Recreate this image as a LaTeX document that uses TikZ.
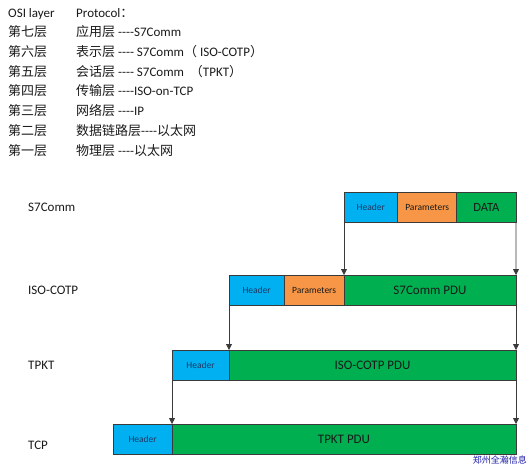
\documentclass[tikz,border=0pt]{standalone}
\usepackage{fontspec}
\setmainfont{Carlito}[Ligatures=TeXOff]
\newfontfamily\cjk{Noto Sans CJK SC}
\usetikzlibrary{arrows.meta}
\definecolor{Ink}{HTML}{1A1A1A}
\definecolor{Edge}{HTML}{3A3A3A}
\definecolor{HdrBlue}{HTML}{00B0F0}
\definecolor{ParOrange}{HTML}{F79646}
\definecolor{PduGreen}{HTML}{00B050}
\definecolor{HdrText}{HTML}{1F3864}
\definecolor{Mark}{HTML}{1C1CA8}

\begin{document}
\begin{tikzpicture}[
  x=1pt, y=-1pt,
  seg/.style={draw=Edge, line width=0.6pt, anchor=north west, inner sep=0pt, outer sep=0pt, minimum height=30pt},
  hdr/.style={seg, fill=HdrBlue, font=\fontsize{9.5}{11}\selectfont\color{HdrText}},
  params/.style={seg, fill=ParOrange, font=\fontsize{9.5}{11}\selectfont\color{Ink}},
  pdu/.style={seg, fill=PduGreen, font=\fontsize{13}{15}\selectfont\color{Ink}},
  layer/.style={anchor=west, inner sep=0pt, font=\fontsize{13}{15}\selectfont, text=Ink},
  osi/.style={anchor=base west, inner sep=0pt, font=\fontsize{13}{15}\selectfont, text=Ink},
  arrow/.style={-{Triangle[width=6pt,length=6pt]}, line width=0.8pt, draw=Edge}
]
\useasboundingbox (0,0) rectangle (530,467);

% OSI layers and protocols
\node[osi] (osi0) at (8,17.5) {OSI layer};
\node[osi] (pr0) at (76,17.5) {Protocol{\cjk ：}};
\node[osi] (osi7) at (8,36.5) {\cjk 第七层};
\node[osi] (pr7) at (76,36.5) {{\cjk 应用层} ----S7Comm};
\node[osi] (osi6) at (8,56.5) {\cjk 第六层};
\node[osi] (pr6) at (76,56.5) {{\cjk 表示层} ---- S7Comm{\cjk （} ISO-COTP{\cjk ）}};
\node[osi] (osi5) at (8,76) {\cjk 第五层};
\node[osi] (pr5) at (76,76) {{\cjk 会话层} ---- S7Comm\ \ {\cjk （}TPKT{\cjk ）}};
\node[osi] (osi4) at (8,95.5) {\cjk 第四层};
\node[osi] (pr4) at (76,95.5) {{\cjk 传输层} ----ISO-on-TCP};
\node[osi] (osi3) at (8,115) {\cjk 第三层};
\node[osi] (pr3) at (76,115) {{\cjk 网络层} ----IP};
\node[osi] (osi2) at (8,135) {\cjk 第二层};
\node[osi] (pr2) at (76,135) {{\cjk 数据链路层}----{\cjk 以太网}};
\node[osi] (osi1) at (8,155) {\cjk 第一层};
\node[osi] (pr1) at (76,155) {{\cjk 物理层} ----{\cjk 以太网}};

% encapsulation
\node[layer] (l1) at (28,207) {S7Comm};
\node[hdr, minimum width=53.7] (s7hdr) at (344,192) {Header};
\node[params, minimum width=59] (s7par) at (397.7,192) {Parameters};
\node[pdu, minimum width=59.3, font=\fontsize{12.5}{14}\selectfont\color{Ink}] (s7data) at (456.7,192) {DATA};

\node[layer] (l2) at (28,290) {ISO-COTP};
\node[hdr, minimum width=55.3] (cotphdr) at (229,275) {Header};
\node[params, minimum width=59.7] (cotppar) at (284.3,275) {Parameters};
\node[pdu, minimum width=172] (cotpdata) at (344,275) {S7Comm PDU};

\node[layer] (l3) at (28,365) {TPKT};
\node[hdr, minimum width=57] (tpkthdr) at (172,350) {Header};
\node[pdu, minimum width=287] (tpktdata) at (229,350) {ISO-COTP PDU};

\node[layer] (l4) at (28,445) {TCP};
\node[hdr, minimum width=58.7] (tcphdr) at (113.3,424) {Header};
\node[pdu, minimum width=344] (tcpdata) at (172,424) {TPKT PDU};

\draw[arrow] (s7hdr.south west) -- (cotpdata.north west);
\draw[arrow] (s7data.south east) -- (cotpdata.north east);
\draw[arrow] (cotphdr.south west) -- (tpktdata.north west);
\draw[arrow] (cotpdata.south east) -- (tpktdata.north east);
\draw[arrow] (tpkthdr.south west) -- (tcpdata.north west);
\draw[arrow] (tpktdata.south east) -- (tcpdata.north east);

\node[anchor=east, inner sep=0pt, font=\cjk\fontsize{9}{10}\selectfont, text=Mark] (mark) at (527,460) {郑州全瀚信息};
\end{tikzpicture}
\end{document}
